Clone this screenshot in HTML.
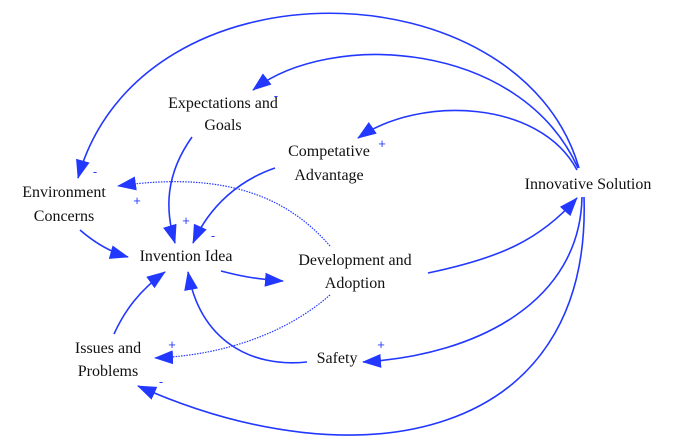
<!DOCTYPE html>
<html><head><meta charset="utf-8"><style>
html,body{margin:0;padding:0;background:#fff;}
svg{display:block;}
text.t{font-family:"Liberation Serif","DejaVu Serif",serif;font-size:16px;fill:#111;}
text.s{font-family:"Liberation Sans",sans-serif;font-size:13px;fill:#2a3cff;}
</style></head><body>
<svg width="678" height="441" viewBox="0 0 678 441" xmlns="http://www.w3.org/2000/svg">
<defs>
<marker id="a" markerWidth="20" markerHeight="14" refX="18" refY="7" orient="auto" markerUnits="userSpaceOnUse">
<path d="M0,0 L19,7 L0,14 Z" fill="#2238ff"/>
</marker>
</defs>
<g fill="none" stroke="#2238ff" stroke-width="1.6" marker-end="url(#a)">
<path d="M579,168 C520,-35 140,-45 78,178"/>
<path d="M578,168 C520,40 330,30 253,90"/>
<path d="M577,170 C540,100 420,95 358,138"/>
<path d="M428,273 C500,258 540,240 577,198"/>
<path d="M582,197 C580,300 480,355 363,362"/>
<path d="M584,197 C592,440 360,485 138,386"/>
<path d="M192,137 C165,175 165,210 175,243"/>
<path d="M275,168 C240,180 210,205 193,243"/>
<path d="M80,230 C95,243 110,252 128,257"/>
<path d="M221,271 C240,276 255,279 283,281"/>
<path d="M114,334 C125,310 140,290 165,272"/>
<path d="M307,362 C250,368 200,340 188,272"/>
<path d="M330,246 C290,200 230,170 118,186" stroke-dasharray="1.5 1.2" stroke-width="1.2"/>
<path d="M330,295 C290,330 230,355 155,358" stroke-dasharray="1.5 1.2" stroke-width="1.2"/>
</g>
<g text-anchor="middle" font-family="Liberation Serif, DejaVu Serif, serif">
<text class="t" x="223" y="108">Expectations and</text>
<text class="t" x="223" y="130">Goals</text>
<text class="t" x="329" y="156">Competative</text>
<text class="t" x="329" y="180">Advantage</text>
<text class="t" x="64" y="197">Environment</text>
<text class="t" x="64" y="221">Concerns</text>
<text class="t" x="186" y="261">Invention Idea</text>
<text class="t" x="355" y="265">Development and</text>
<text class="t" x="355" y="288">Adoption</text>
<text class="t" x="588" y="189">Innovative Solution</text>
<text class="t" x="108" y="353">Issues and</text>
<text class="t" x="108" y="376">Problems</text>
<text class="t" x="337" y="363">Safety</text>
</g>
<g text-anchor="middle">
<text class="s" x="276" y="100">-</text>
<text class="s" x="382" y="148">+</text>
<text class="s" x="95" y="176">-</text>
<text class="s" x="137" y="205">+</text>
<text class="s" x="186" y="225">+</text>
<text class="s" x="213" y="240">-</text>
<text class="s" x="172" y="349">+</text>
<text class="s" x="161" y="386">-</text>
<text class="s" x="381" y="349">+</text>
</g>
</svg>
</body></html>
